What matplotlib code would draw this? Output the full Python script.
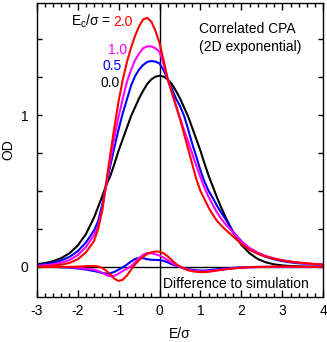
import numpy as np
import matplotlib
matplotlib.use("Agg")
import matplotlib.pyplot as plt
from matplotlib.ticker import MultipleLocator, FixedLocator

plt.rcParams['font.family'] = ['Liberation Sans', 'DejaVu Sans']
plt.rcParams['mathtext.default'] = 'regular'
plt.rcParams['font.size'] = 10
plt.rcParams['axes.unicode_minus'] = False

# energy grid (E/sigma)
x = [-3.0, -2.8, -2.6, -2.4, -2.2, -2.0, -1.8, -1.6,
     -1.5, -1.4, -1.3, -1.2, -1.1, -1.0, -0.9, -0.8, -0.7, -0.6, -0.5, -0.4, -0.3, -0.2, -0.1,
     0.0, 0.1, 0.2, 0.3, 0.4, 0.5, 0.6, 0.7, 0.8, 0.9, 1.0, 1.1, 1.2, 1.3, 1.4, 1.5,
     1.6, 1.8, 2.0, 2.2, 2.4, 2.6, 2.8, 3.0, 3.2, 3.4, 3.6, 3.8, 4.0]

# OD, correlated CPA
od_00 = [0.018, 0.025, 0.038, 0.058, 0.090, 0.140, 0.215, 0.325,
         0.395, 0.465, 0.540, 0.600, 0.680, 0.765, 0.840, 0.915, 0.990, 1.050, 1.110, 1.160, 1.205, 1.235, 1.253,
         1.259, 1.253, 1.235, 1.205, 1.160, 1.110, 1.050, 0.990, 0.915, 0.840, 0.765, 0.680, 0.600, 0.530, 0.460, 0.395,
         0.335, 0.225, 0.145, 0.090, 0.052, 0.030, 0.017, 0.010, 0.006, 0.004, 0.002, 0.001, 0.001]
od_05 = [0.012, 0.018, 0.027, 0.043, 0.066, 0.103, 0.160, 0.240,
         0.300, 0.410, 0.540, 0.670, 0.790, 0.905, 1.010, 1.100, 1.190, 1.255, 1.300, 1.330, 1.350, 1.356, 1.352,
         1.340, 1.295, 1.235, 1.175, 1.110, 1.060, 0.995, 0.905, 0.810, 0.725, 0.635, 0.560, 0.500, 0.455, 0.405, 0.360,
         0.320, 0.230, 0.170, 0.120, 0.088, 0.066, 0.050, 0.038, 0.030, 0.024, 0.020, 0.016, 0.014]
od_10 = [0.007, 0.011, 0.017, 0.028, 0.045, 0.078, 0.130, 0.210,
         0.270, 0.380, 0.545, 0.700, 0.855, 0.990, 1.105, 1.215, 1.295, 1.360, 1.405, 1.440, 1.453, 1.452, 1.440,
         1.417, 1.335, 1.240, 1.150, 1.060, 0.980, 0.900, 0.825, 0.745, 0.665, 0.590, 0.520, 0.460, 0.410, 0.360, 0.320,
         0.285, 0.225, 0.168, 0.125, 0.094, 0.072, 0.056, 0.044, 0.035, 0.028, 0.022, 0.018, 0.015]
od_20 = [0.003, 0.005, 0.008, 0.015, 0.026, 0.050, 0.095, 0.170,
         0.250, 0.370, 0.560, 0.745, 0.925, 1.090, 1.230, 1.345, 1.440, 1.520, 1.585, 1.630, 1.640, 1.615, 1.555,
         1.475, 1.360, 1.235, 1.150, 1.065, 0.975, 0.875, 0.775, 0.675, 0.578, 0.500, 0.445, 0.390, 0.345, 0.305, 0.275,
         0.248, 0.200, 0.152, 0.112, 0.087, 0.068, 0.054, 0.043, 0.035, 0.029, 0.024, 0.019, 0.016]

# difference to simulation
diff_05 = [0.0, 0.0, 0.0, -0.002, -0.005, -0.010, -0.017, -0.027,
           -0.033, -0.040, -0.044, -0.042, -0.032, -0.018, -0.003, 0.015, 0.035, 0.052, 0.060, 0.057, 0.051, 0.047, 0.046,
           0.045, 0.040, 0.030, 0.018, 0.008, 0.0, -0.008, -0.014, -0.019, -0.022, -0.024, -0.024, -0.022, -0.019, -0.016, -0.013,
           -0.010, -0.006, -0.003, -0.001, 0.0, 0.0, 0.0, 0.0, 0.0, 0.0, 0.0, 0.0, 0.0]
diff_10 = [0.0, 0.0, 0.0, -0.001, -0.002, -0.005, -0.011, -0.018,
           -0.026, -0.038, -0.054, -0.062, -0.058, -0.045, -0.027, -0.012, 0.004, 0.030, 0.058, 0.080, 0.092, 0.090, 0.083,
           0.075, 0.062, 0.045, 0.028, 0.012, 0.0, -0.010, -0.018, -0.024, -0.028, -0.030, -0.030, -0.028, -0.025, -0.021, -0.018,
           -0.015, -0.009, -0.005, -0.002, -0.001, 0.0, 0.0, 0.0, 0.0, 0.0, 0.0, 0.0, 0.0]
diff_20 = [0.0, 0.0, 0.0, 0.0, 0.0, 0.002, 0.005, 0.006,
           0.003, -0.006, -0.025, -0.050, -0.078, -0.092, -0.085, -0.058, -0.020, 0.015, 0.045, 0.068, 0.085, 0.096, 0.102,
           0.100, 0.090, 0.070, 0.045, 0.020, 0.003, -0.012, -0.022, -0.028, -0.032, -0.034, -0.034, -0.032, -0.028, -0.024, -0.020,
           -0.016, -0.010, -0.005, -0.002, 0.0, 0.001, 0.002, 0.002, 0.002, 0.001, 0.001, 0.001, 0.001]

colors = {'0.0': 'black', '0.5': '#0000ff', '1.0': '#ff00ff', '2.0': '#ff0000'}

fig = plt.figure(figsize=(3.27, 3.42), dpi=100)
ax = fig.add_axes([0.1122, 0.1307, 0.8765, 0.8614])

ax.axhline(0, color='black', lw=1.0)
ax.axvline(0, color='black', lw=1.0)

ax.plot(x, od_00, color=colors['0.0'], lw=1.5)
ax.plot(x, od_05, color=colors['0.5'], lw=1.5)
ax.plot(x, od_10, color=colors['1.0'], lw=1.5)
ax.plot(x, od_20, color=colors['2.0'], lw=1.5)

ax.plot(x, diff_05, color=colors['0.5'], lw=1.5)
ax.plot(x, diff_10, color=colors['1.0'], lw=1.5)
ax.plot(x, diff_20, color=colors['2.0'], lw=1.5)

ax.set_xlim(-3, 4)
ax.set_ylim(-0.2, 1.74)

ax.xaxis.set_major_locator(MultipleLocator(1))
ax.xaxis.set_minor_locator(MultipleLocator(0.2))
ax.yaxis.set_major_locator(FixedLocator([0, 1]))
ax.yaxis.set_minor_locator(MultipleLocator(0.25))
ax.tick_params(which='both', direction='in', top=True, right=True, width=1.0, labelsize=10)
ax.tick_params(axis='x', which='major', length=5, pad=5)
ax.tick_params(axis='x', which='minor', length=3)
ax.tick_params(axis='y', which='both', length=3.5, pad=6)
for s in ax.spines.values():
    s.set_linewidth(1.0)

ax.set_xlabel('E/σ', fontsize=10, labelpad=6)
ax.set_ylabel('OD', fontsize=10, labelpad=4)

# legend-like labels
ax.text(-1.18, 1.587, 'E$_c$/σ =', ha='right', va='baseline', fontsize=10)
ax.text(-1.128, 1.587, '2.0', color=colors['2.0'], ha='left', va='baseline', fontsize=10)
ax.text(-1.258, 1.404, '1.0', color=colors['1.0'], ha='left', va='baseline', fontsize=10)
ax.text(-1.404, 1.295, '0.5', color=colors['0.5'], ha='left', va='baseline', fontsize=10)
ax.text(-1.453, 1.183, '0.0', color=colors['0.0'], ha='left', va='baseline', fontsize=10)

ax.text(0.97, 1.539, 'Correlated CPA', ha='left', va='baseline', fontsize=10)
ax.text(0.97, 1.424, '(2D exponential)', ha='left', va='baseline', fontsize=10)
ax.text(0.078, -0.142, 'Difference to simulation', ha='left', va='baseline', fontsize=10)

fig.savefig('out.png', dpi=100)
